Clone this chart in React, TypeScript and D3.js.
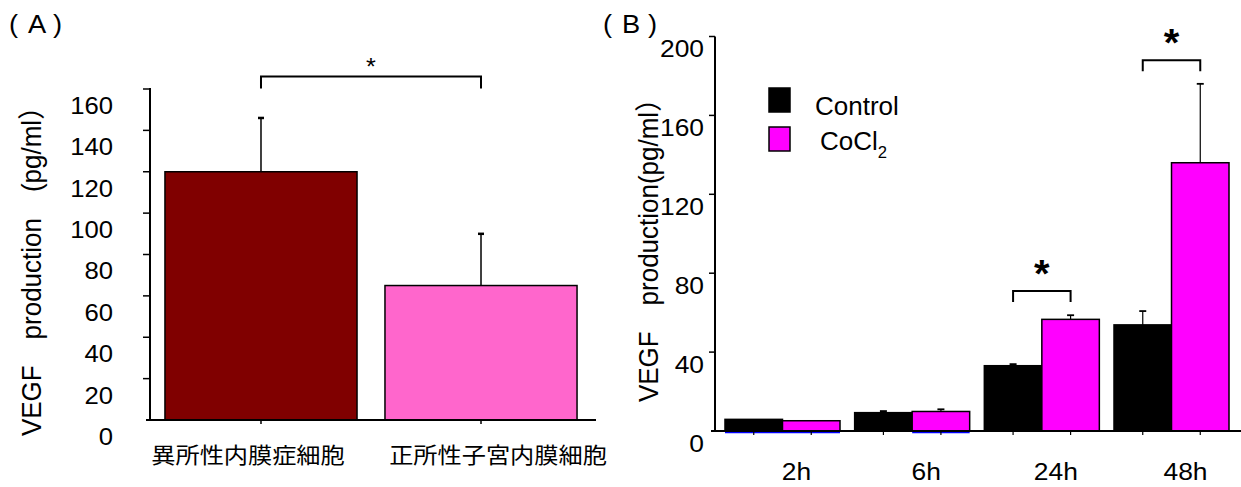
import React from 'react';
import * as d3 from 'd3';

// ---------- Data ----------
const catsA = ['異所性内膜症細胞', '正所性子宮内膜細胞'];
const meanA = [120, 65];
const sdA = [26, 25];
const colorsA = ['#800000', '#FF66CC'];
const ticksA = [0, 20, 40, 60, 80, 100, 120, 140, 160];
const sigA = 166; // bracket height (value units)

const timesB = ['2h', '6h', '24h', '48h'];
const seriesB = ['Control', 'CoCl2'];
const controlB = [5.9, 9.3, 33.1, 53.8];
const controlSdB = [0, 0.8, 0.8, 7.0];
const cocl2B = [5.2, 9.9, 56.6, 136];
const cocl2SdB = [0, 1.1, 2.1, 40];
const colorsB = ['#000000', '#FF00FF'];
const ticksB = [0, 40, 80, 120, 160, 200];
const sigTimesB = ['24h', '48h'];
const sigHeightsB = [71, 188];

const LAT = '"Liberation Sans", Arial, Helvetica, sans-serif';
const CJK = '"Noto Sans CJK JP", "Noto Sans CJK SC", sans-serif';
const MIX = '"Liberation Sans", Arial, "Noto Sans CJK JP", sans-serif';

function T({ x, y, sx = 1.12, rot = 0, children, ...rest }: any) {
  return (
    <text
      transform={`translate(${x},${y}) scale(${sx},1)${rot ? ` rotate(${rot})` : ''}`}
      {...rest}
    >
      {children}
    </text>
  );
}

export default function App() {
  // Panel A scales
  const xA = d3.scaleBand().domain(catsA).range([150, 592]).paddingInner(0.127).paddingOuter(0.068);
  const yA = d3.scaleLinear().domain([0, 160]).range([420, 89]);
  // Panel B scales
  const xB = d3.scaleBand().domain(timesB).range([715, 1239]).paddingInner(0.113).paddingOuter(0.077);
  const xSub = d3.scaleBand().domain(seriesB).range([0, xB.bandwidth()]);
  const yB = d3.scaleLinear().domain([0, 200]).range([431, 36.5]);

  const valsB = [controlB, cocl2B];
  const sdsB = [controlSdB, cocl2SdB];
  const labelNudgeA = [-13, 17];

  const cA = (c: string) => (xA(c) as number) + xA.bandwidth() / 2;
  const cB = (t: string, s: string) => (xB(t) as number) + (xSub(s) as number) + xSub.bandwidth() / 2;

  return (
    <svg width={1241} height={487} style={{ position: 'absolute', left: 0, top: 0, background: '#fff' }}>
      <rect width={1241} height={487} fill="#fff" />
      {/* ================= Panel A ================= */}
      <g fontFamily={LAT} fill="#000">
        <T x={9} y={33} fontSize={26} sx={1.05}>(</T>
        <T x={28} y={33} fontSize={26} sx={1.05}>A</T>
        <T x={53} y={33} fontSize={26} sx={1.05}>)</T>
      </g>
      {/* bars */}
      {catsA.map((c, i) => (
        <rect key={c} x={xA(c)} y={yA(meanA[i])} width={xA.bandwidth()} height={yA(0) - yA(meanA[i])}
          fill={colorsA[i]} stroke="#000" strokeWidth={1.5} />
      ))}
      {/* error bars */}
      {catsA.map((c, i) => (
        <g key={'e' + c} stroke="#000">
          <line x1={cA(c)} x2={cA(c)} y1={yA(meanA[i])} y2={yA(meanA[i] + sdA[i])} strokeWidth={1.5} />
          <line x1={cA(c) - 3} x2={cA(c) + 3} y1={yA(meanA[i] + sdA[i])} y2={yA(meanA[i] + sdA[i])} strokeWidth={2.5} />
        </g>
      ))}
      {/* axes */}
      <line x1={150} x2={150} y1={yA(0)} y2={yA(160) - 1} stroke="#000" strokeWidth={2} />
      <line x1={146} x2={596} y1={yA(0)} y2={yA(0)} stroke="#000" strokeWidth={2} />
      {ticksA.map(v => (
        <g key={v}>
          {v > 0 && <line x1={143} x2={150} y1={yA(v)} y2={yA(v)} stroke="#000" strokeWidth={1.5} />}
          <T x={113} y={yA(v) + 16.5} dy="0.35em" textAnchor="end" fontFamily={LAT} fontSize={24} sx={1.07}>{v}</T>
        </g>
      ))}
      {catsA.map((c, i) => (
        <g key={'l' + c}>
          <line x1={cA(c)} x2={cA(c)} y1={yA(0)} y2={yA(0) + 4} stroke="#000" strokeWidth={1.5} />
          <T x={cA(c) + labelNudgeA[i]} y={455} dy="0.35em" sx={1.1} textAnchor="middle" fontFamily={CJK} fontSize={22}>{c}</T>
        </g>
      ))}
      {/* significance bracket */}
      <path d={`M${cA(catsA[0])},${yA(sigA) + 12}V${yA(sigA)}H${cA(catsA[1])}V${yA(sigA) + 12}`}
        fill="none" stroke="#000" strokeWidth={2} />
      <T x={(cA(catsA[0]) + cA(catsA[1])) / 2} y={yA(sigA) - 2} textAnchor="middle" fontFamily={LAT} fontSize={24} sx={1.05}>*</T>
      {/* y title */}
      <T x={41} y={265} rot={-90} sx={1.05} textAnchor="middle" fontFamily={MIX} fontSize={26}>VEGF　production　(pg/ml）</T>

      {/* ================= Panel B ================= */}
      <g fontFamily={LAT} fill="#000">
        <T x={603} y={33} fontSize={26} sx={1.05}>(</T>
        <T x={622} y={33} fontSize={26} sx={1.05}>B</T>
        <T x={648} y={33} fontSize={26} sx={1.05}>)</T>
      </g>
      {timesB.map((t, ti) => (
        <g key={t}>
          {seriesB.map((s, si) => {
            const v = valsB[si][ti];
            return (
              <rect key={s} x={(xB(t) as number) + (xSub(s) as number)} y={yB(v)} width={xSub.bandwidth()}
                height={yB(0) - yB(v)} fill={colorsB[si]} stroke="#000" strokeWidth={1.5} />
            );
          })}
        </g>
      ))}
      {/* blue bottom edge on early bars */}
      <line x1={xB('2h') as number} x2={(xB('2h') as number) + xB.bandwidth()} y1={yB(0) + 1.5} y2={yB(0) + 1.5} stroke="#0000FF" strokeWidth={1.5} />
      <line x1={(xB('6h') as number) + (xSub('CoCl2') as number)} x2={(xB('6h') as number) + xB.bandwidth()} y1={yB(0) + 1.5} y2={yB(0) + 1.5} stroke="#0000FF" strokeWidth={1.5} />
      {timesB.map((t, ti) => (
        <g key={'e' + t} stroke="#000">
          {seriesB.map((s, si) => {
            const v = valsB[si][ti], sd = sdsB[si][ti];
            if (sd <= 0) return null;
            const cx = cB(t, s);
            return (
              <g key={s}>
                <line x1={cx} x2={cx} y1={yB(v)} y2={yB(v + sd)} strokeWidth={1.2} />
                <line x1={cx - 3.5} x2={cx + 3.5} y1={yB(v + sd)} y2={yB(v + sd)} strokeWidth={1.8} />
              </g>
            );
          })}
        </g>
      ))}
      {/* axes */}
      <line x1={715} x2={715} y1={yB(0)} y2={yB(200)} stroke="#000" strokeWidth={2} />
      <line x1={711} x2={1241} y1={yB(0)} y2={yB(0)} stroke="#000" strokeWidth={2} />
      {ticksB.map(v => (
        <g key={v}>
          {v > 0 && <line x1={709} x2={715} y1={yB(v)} y2={yB(v)} stroke="#000" strokeWidth={1.5} />}
          <T x={704} y={yB(v) + 12.5} dy="0.35em" textAnchor="end" fontFamily={LAT} fontSize={24} sx={1.1}>{v}</T>
        </g>
      ))}
      {timesB.map(t => (
        <g key={'t' + t}>
          {seriesB.map(s => (
            <line key={s} x1={cB(t, s)} x2={cB(t, s)} y1={yB(0)} y2={yB(0) + 4} stroke="#000" strokeWidth={1.2} />
          ))}
          <T x={(xB(t) as number) + xB.bandwidth() / 2 + 14} y={480} textAnchor="middle" fontFamily={LAT} fontSize={24} sx={1.1}>{t}</T>
        </g>
      ))}
      {/* significance brackets */}
      {sigTimesB.map((t, i) => {
        const x1 = cB(t, seriesB[0]), x2 = cB(t, seriesB[1]), y = yB(sigHeightsB[i]);
        return (
          <g key={'s' + t}>
            <path d={`M${x1},${y + 11}V${y}H${x2}V${y + 11}`} fill="none" stroke="#000" strokeWidth={2} />
            <T x={(x1 + x2) / 2} y={y - 4} textAnchor="middle" fontFamily={LAT} fontWeight="bold" fontSize={38} sx={1.05}>*</T>
          </g>
        );
      })}
      {/* legend */}
      {seriesB.map((s, i) => (
        <g key={'lg' + s}>
          <rect x={769} y={88 + i * 39} width={21} height={24} fill={colorsB[i]} stroke="#000" strokeWidth={1.5} />
        </g>
      ))}
      <T x={815} y={115} fontFamily={LAT} fontSize={25} sx={1.04}>Control</T>
      <T x={820} y={150} fontFamily={LAT} fontSize={25} sx={1.04}>CoCl<tspan fontSize={16} dy={8}>2</tspan></T>
      {/* y title */}
      <T x={658} y={244} rot={-90} sx={1.05} textAnchor="middle" fontFamily={MIX} fontSize={26}>VEGF　production(pg/ml）</T>
    </svg>
  );
}
